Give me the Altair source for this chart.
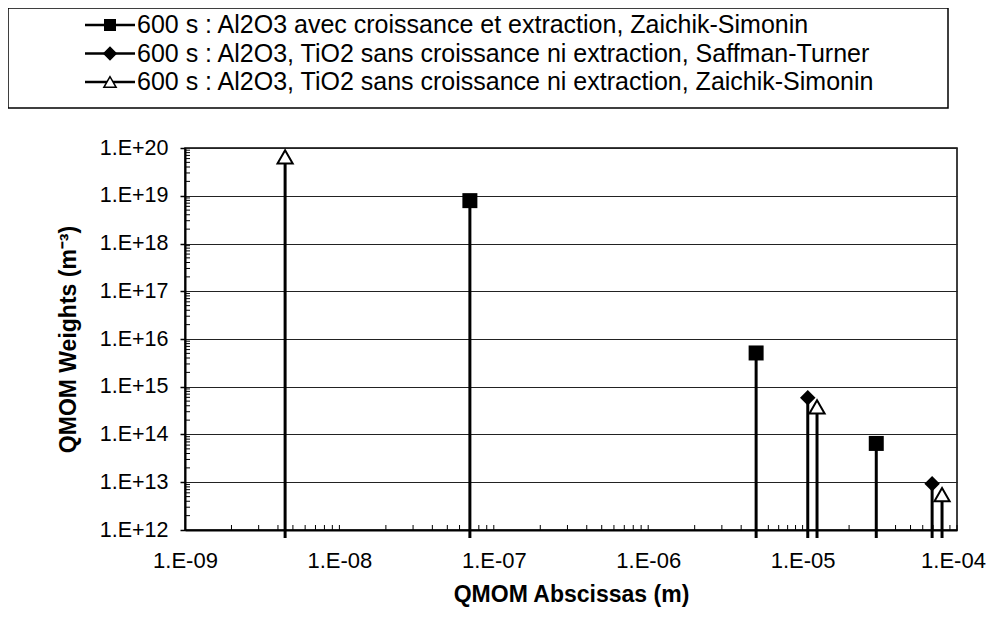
import altair as alt
import pandas as pd

# ---- data ----
series_names = [
    "600 s : Al2O3 avec croissance et extraction, Zaichik-Simonin",
    "600 s : Al2O3, TiO2 sans croissance ni extraction, Saffman-Turner",
    "600 s : Al2O3, TiO2 sans croissance ni extraction, Zaichik-Simonin",
]
square_x = [7.0e-8, 5.0e-6, 3.0e-5]
square_y = [7.9e18, 5.1e15, 6.5e13]
diamond_x = [1.08e-5, 6.9e-5]
diamond_y = [5.9e14, 9.3e12]
triangle_x = [4.45e-9, 1.24e-5, 8.0e-5]
triangle_y = [6.5e19, 3.8e14, 5.5e12]

x_ticks = [1e-9, 1e-8, 1e-7, 1e-6, 1e-5, 1e-4]
y_ticks = [1e12, 1e13, 1e14, 1e15, 1e16, 1e17, 1e18, 1e19, 1e20]

FONT = "Liberation Sans"
W, H = 772, 382

x_minor = [k * d for d in x_ticks[:-1] for k in range(2, 11)]
y_minor = [k * d for d in y_ticks[:-1] for k in range(2, 10)]

xs = alt.Scale(type="log", domain=[1e-9, 1e-4], nice=False)
ys = alt.Scale(type="log", domain=[1e12, 1e20], nice=False)

df_sq = pd.DataFrame({"x": square_x, "y": square_y})
df_di = pd.DataFrame({"x": diamond_x, "y": diamond_y})
df_tr = pd.DataFrame({"x": triangle_x, "y": triangle_y})
df_all = pd.concat([df_sq, df_di, df_tr], ignore_index=True)

x_axis = alt.Axis(
    values=x_ticks,
    labelExpr="'1.E-' + format(-round(log(datum.value)/LN10), '02d')",
    title="QMOM Abscissas (m)",
    titleFont=FONT, titleFontSize=23, titleFontWeight="bold", titleColor="black",
    titleY=64, titleBaseline="middle",
    labelFont=FONT, labelFontSize=22, labelColor="black", labelPadding=20,
    labelOffset={"condition": {"test": "datum.value > 5e-5", "value": -4}, "value": 0},
    ticks=False, grid=False, domainColor="black", domainWidth=2,
    labelFlush=False,
)
y_axis = alt.Axis(
    values=y_ticks,
    labelExpr="'1.E+' + format(round(log(datum.value)/LN10), '02d')",
    title="QMOM Weights (m⁻³)",
    titleFont=FONT, titleFontSize=23, titleFontWeight="bold", titleColor="black",
    titleX=-117, titleY=H / 2, titleAngle=270, titleBaseline="middle", titleAlign="center",
    labelFont=FONT, labelFontSize=21.5, labelColor="black", labelPadding=12,
    ticks=True, tickSize=5, tickColor="black", tickWidth=1.5,
    grid=True, gridColor="#222222", gridWidth=1,
    domainColor="black", domainWidth=2,
    labelFlush=False,
)

stems = alt.Chart(df_all).mark_rule(color="black", strokeWidth=3, clip=False).encode(
    x=alt.X("x:Q", scale=xs, axis=x_axis),
    y=alt.Y("y:Q", scale=ys, axis=y_axis),
    y2=alt.value(H + 8),
)

ymin = alt.Chart(pd.DataFrame({"v": y_minor})).mark_rule(color="black", strokeWidth=1).encode(
    y=alt.Y("v:Q", scale=ys), x=alt.value(0), x2=alt.value(5)
)
xmin = alt.Chart(pd.DataFrame({"v": x_minor})).mark_rule(color="black", strokeWidth=1).encode(
    x=alt.X("v:Q", scale=xs), y=alt.value(H), y2=alt.value(H - 5)
)

squares = alt.Chart(df_sq).mark_point(
    shape="square", filled=True, fill="black", size=225, opacity=1, strokeWidth=0
).encode(x=alt.X("x:Q", scale=xs), y=alt.Y("y:Q", scale=ys))
diamonds = alt.Chart(df_di).mark_point(
    shape="diamond", filled=True, fill="black", size=240, opacity=1, strokeWidth=0
).encode(x=alt.X("x:Q", scale=xs), y=alt.Y("y:Q", scale=ys))
triangles = alt.Chart(df_tr).mark_point(
    shape="triangle-up", filled=False, fill="white", stroke="black", size=230,
    strokeWidth=2, opacity=1, fillOpacity=1
).encode(x=alt.X("x:Q", scale=xs), y=alt.Y("y:Q", scale=ys))

# ---- legend (drawn above the plot area) ----
box = alt.Chart(alt.Data(values=[{}])).mark_rect(
    fill="white", stroke="black", strokeWidth=1.5
).encode(
    x=alt.value(-177), x2=alt.value(763), y=alt.value(-140), y2=alt.value(-40)
)
legend_layers = [box]
legend_rows = [-123, -94.5, -66]
legend_shapes = ["square", "diamond", "triangle-up"]
legend_fills = ["black", "black", "white"]
legend_sizes = [110, 150, 150]
for name, ly, shp, fl, sz in zip(series_names, legend_rows, legend_shapes, legend_fills, legend_sizes):
    d = alt.Data(values=[{"label": name}])
    legend_layers.append(
        alt.Chart(d).mark_rule(color="black", strokeWidth=2.5).encode(
            x=alt.value(-100), x2=alt.value(-50), y=alt.value(ly)
        )
    )
    legend_layers.append(
        alt.Chart(d).mark_point(
            shape=shp, fill=fl, stroke="black", strokeWidth=1.5, size=sz,
            opacity=1, fillOpacity=1, filled=(fl == "black")
        ).encode(x=alt.value(-75), y=alt.value(ly))
    )
    legend_layers.append(
        alt.Chart(d).mark_text(
            align="left", baseline="middle", font=FONT, fontSize=25, color="black"
        ).encode(x=alt.value(-48), y=alt.value(ly), text="label:N")
    )

chart = alt.layer(
    stems, ymin, xmin, squares, diamonds, triangles, *legend_layers
).properties(
    width=W, height=H,
    autosize=alt.AutoSizeParams(type="none"),
    padding={"left": 177, "top": 140, "right": 29, "bottom": 80},
    background="white",
).configure_view(stroke="black", strokeWidth=1.5)

chart.save("out.html", embed_options={"renderer": "svg", "actions": False})
